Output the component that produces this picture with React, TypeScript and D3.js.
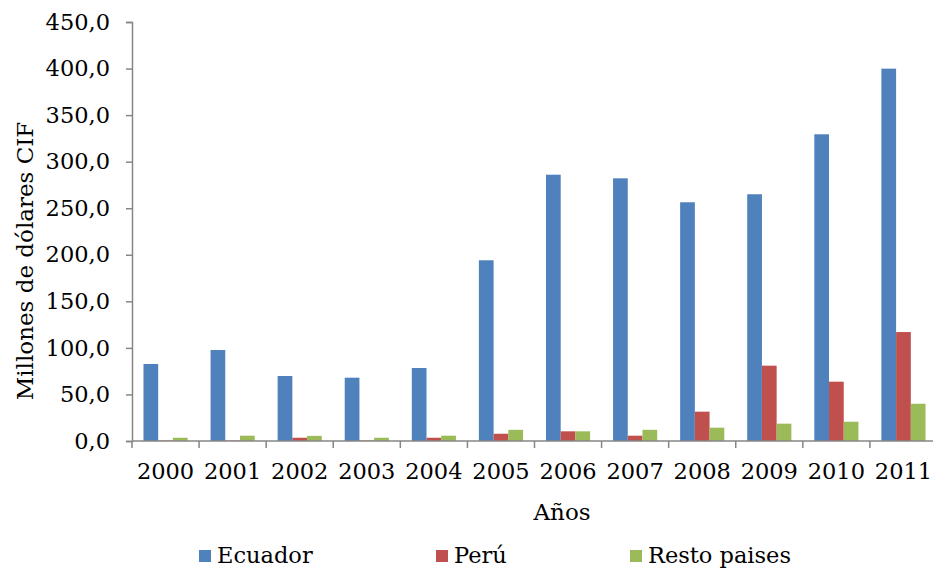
import React, { useEffect, useRef } from 'react';
import * as d3 from 'd3';

const years = ['2000', '2001', '2002', '2003', '2004', '2005', '2006', '2007', '2008', '2009', '2010', '2011'];
const seriesNames = ['Ecuador', 'Perú', 'Resto paises'];
const ecuador = [82.7, 97.7, 69.8, 68.0, 78.4, 194.1, 286.0, 282.1, 256.4, 265.0, 329.4, 399.9];
const peru = [0.5, 0.5, 3.5, 0.5, 3.5, 7.8, 10.4, 5.7, 31.5, 80.9, 63.7, 117.0];
const resto = [3.5, 5.7, 5.5, 3.5, 5.7, 12.0, 10.4, 12.0, 14.3, 18.6, 20.7, 40.0];
const seriesColors = ['#4F81BD', '#C0504D', '#9BBB59'];
const yTicks = [0, 50, 100, 150, 200, 250, 300, 350, 400, 450];

const W = 933;
const H = 569;
const FONT = '"DejaVu Serif", "Liberation Serif", serif';

const App = () => {
  const svgRef = useRef<SVGSVGElement>(null);

  useEffect(() => {
    if (!svgRef.current) return;
    const svg = d3.select(svgRef.current);
    svg.selectAll('*').remove();

    const left = 132;
    const right = 937;
    const top = 22;
    const bottom = 441;

    const x = d3.scaleBand<string>().domain(years).range([left, right]).padding(0);
    const xs = d3.scaleBand<string>().domain(seriesNames).range([0, x.bandwidth()])
      .paddingInner(0).paddingOuter(0.78);
    const y = d3.scaleLinear().domain([0, 450]).range([bottom, top]);

    const data = [ecuador, peru, resto];

    // bars
    data.forEach((vals, si) => {
      svg.append('g')
        .selectAll('rect')
        .data(vals)
        .enter().append('rect')
        .attr('x', (d, i) => (x(years[i]) as number) + (xs(seriesNames[si]) as number))
        .attr('y', d => y(d))
        .attr('width', xs.bandwidth())
        .attr('height', d => bottom - y(d))
        .attr('fill', seriesColors[si]);
    });

    // y axis
    const yAxis = svg.append('g')
      .attr('transform', `translate(${left},0)`)
      .call(d3.axisLeft(y).tickValues(yTicks).tickSize(6).tickPadding(16)
        .tickFormat(d => d3.format('.1f')(d as number).replace('.', ',')));
    yAxis.select('.domain').attr('stroke', '#868686').attr('stroke-width', 1.5);
    yAxis.selectAll('.tick line').attr('stroke', '#868686').attr('stroke-width', 1.5);
    yAxis.selectAll('.tick text')
      .attr('fill', '#000')
      .style('font-family', FONT)
      .style('font-size', '22.5px');

    // x axis line and ticks at category boundaries
    const xg = svg.append('g');
    xg.append('line')
      .attr('x1', left).attr('x2', right)
      .attr('y1', bottom).attr('y2', bottom)
      .attr('stroke', '#868686').attr('stroke-width', 1.5);
    xg.selectAll('line.tk')
      .data(years)
      .enter().append('line')
      .attr('class', 'tk')
      .attr('x1', d => x(d) as number).attr('x2', d => x(d) as number)
      .attr('y1', bottom).attr('y2', bottom + 7)
      .attr('stroke', '#868686').attr('stroke-width', 1.5);
    xg.selectAll('text')
      .data(years)
      .enter().append('text')
      .attr('x', d => (x(d) as number) + x.bandwidth() / 2)
      .attr('y', 479)
      .attr('text-anchor', 'middle')
      .style('font-family', FONT)
      .style('font-size', '22.5px')
      .text(d => d);

    // axis titles
    svg.append('text')
      .attr('x', 562)
      .attr('y', 520)
      .attr('text-anchor', 'middle')
      .style('font-family', FONT)
      .style('font-size', '23px')
      .text('Años');

    svg.append('text')
      .attr('transform', `translate(33,261) rotate(-90)`)
      .attr('text-anchor', 'middle')
      .style('font-family', FONT)
      .style('font-size', '23px')
      .text('Millones de dólares CIF');

    // legend
    const legendX = [199, 436, 630];
    const lg = svg.append('g');
    seriesNames.forEach((name, i) => {
      lg.append('rect')
        .attr('x', legendX[i]).attr('y', 550)
        .attr('width', 12).attr('height', 12)
        .attr('fill', seriesColors[i]);
      lg.append('text')
        .attr('x', legendX[i] + 18)
        .attr('y', 563)
        .style('font-family', FONT)
        .style('font-size', '22.5px')
        .text(name);
    });
  }, []);

  return (
    <div style={{ position: 'absolute', left: 0, top: 0, width: W, height: H, overflow: 'hidden', background: '#fff' }}>
      <svg ref={svgRef} width={W} height={H} style={{ display: 'block' }}></svg>
    </div>
  );
};

export default App;
